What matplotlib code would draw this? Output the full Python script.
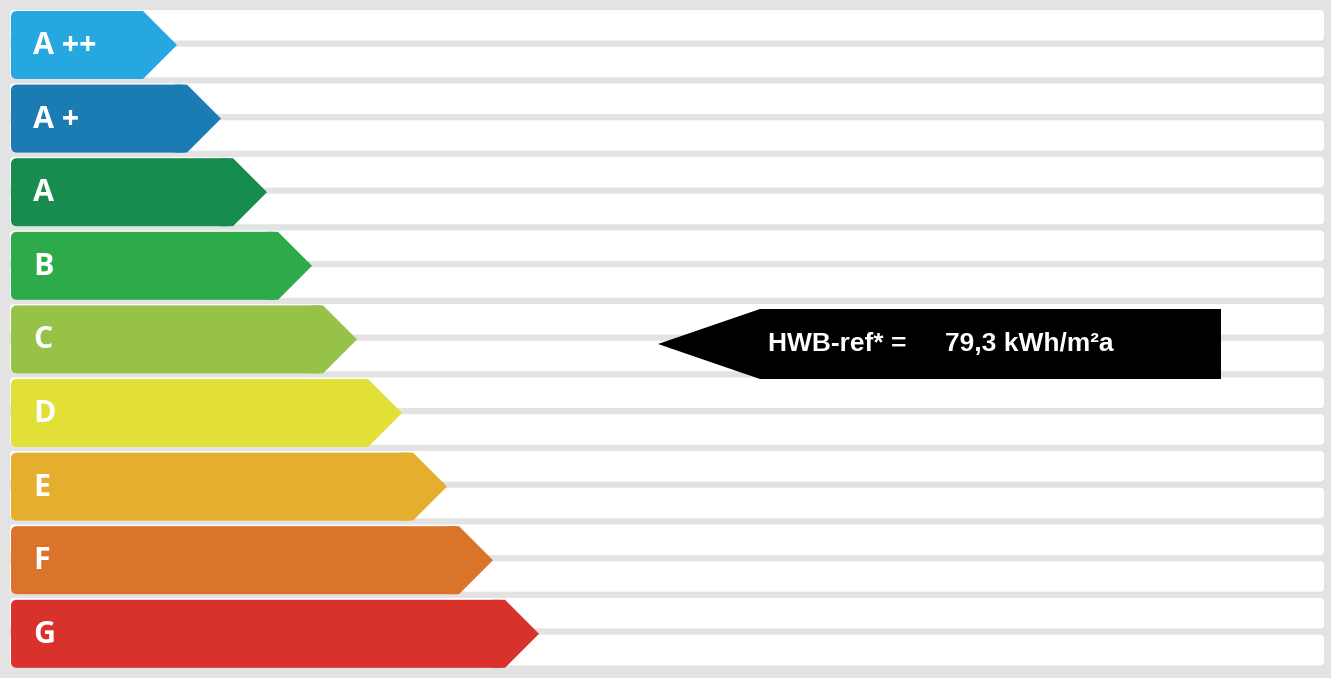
import matplotlib.pyplot as plt
from matplotlib.patches import Polygon, FancyBboxPatch

# Energy classes, top to bottom
classes = ['A ++', 'A +', 'A', 'B', 'C', 'D', 'E', 'F', 'G']
colors = ['#27a7df', '#1b7cb3', '#168d4e', '#2dab4b', '#95c247',
          '#e2df37', '#e5af2d', '#db742b', '#d9312b']
# tip position of each class arrow (px)
tips = [177, 221, 267, 312, 357, 402, 447, 493, 539]

# result marker
result_label = 'HWB-ref* ='
result_value = '79,3 kWh/m²a'

W, H = 1331, 678
fig = plt.figure(figsize=(W / 100, H / 100), dpi=100, facecolor='#e3e3e3')
ax = fig.add_axes([0, 0, 1, 1])
ax.set_xlim(0, W)
ax.set_ylim(H, 0)
ax.axis('off')
ax.set_facecolor('#e3e3e3')

# white background stripes
for k in range(18):
    top = 10 + 36.75 * k
    ax.add_patch(FancyBboxPatch((10, top), 1314, 30.5,
                                boxstyle='round,pad=0,rounding_size=4',
                                fc='white', ec='none', zorder=1))

pitch = 73.6
rh = 68
for i, (lab, col, tip) in enumerate(zip(classes, colors, tips)):
    top = 11 + pitch * i
    bot = top + rh
    mid = (top + bot) / 2
    body = tip - rh / 2
    # rounded left part
    ax.add_patch(FancyBboxPatch((11, top), body - 11, rh,
                                boxstyle='round,pad=0,rounding_size=6',
                                fc=col, ec='none', zorder=2))
    # pointed right part
    pts = [(body - 12, top), (body, top), (tip, mid),
           (body, bot), (body - 12, bot)]
    ax.add_patch(Polygon(pts, closed=True, fc=col, ec='none', zorder=2))
    ax.text(33, mid + 1, lab, color='white', fontsize=22, fontweight='bold',
            family='Open Sans', va='center', ha='left', zorder=3)

# black result arrow
top = 309
bot = 379
mid = (top + bot) / 2
pts = [(658, mid), (760, top), (1221, top), (1221, bot), (760, bot)]
ax.add_patch(Polygon(pts, closed=True, fc='black', ec='none', zorder=4))
ax.text(768, mid, result_label, color='white', fontsize=19, fontweight='bold',
        family='Liberation Sans', va='center', ha='left', zorder=5)
ax.text(945, mid, result_value, color='white', fontsize=19, fontweight='bold',
        family='Liberation Sans', va='center', ha='left', zorder=5)

plt.savefig('out.png', dpi=100, facecolor=fig.get_facecolor())
plt.close()
